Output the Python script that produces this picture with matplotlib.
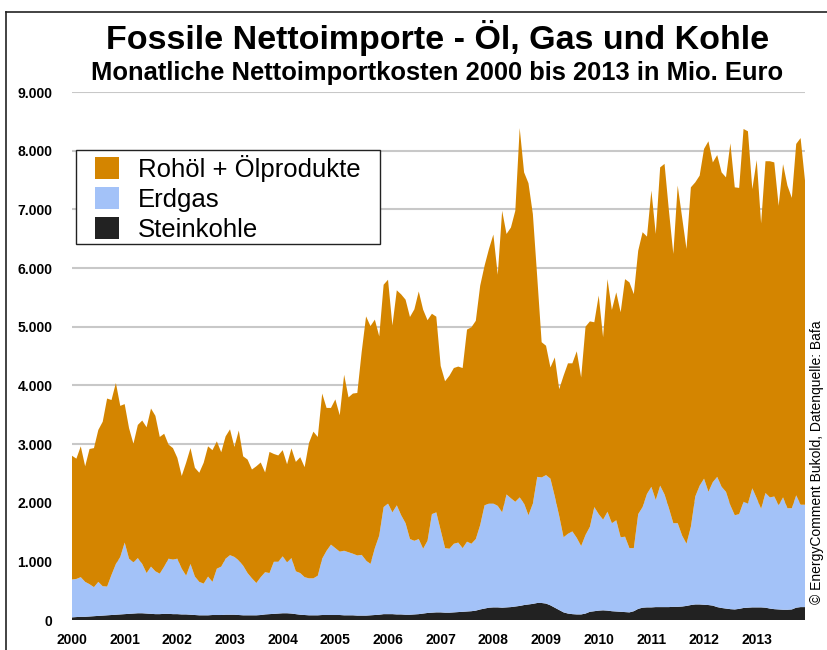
import numpy as np
import matplotlib
matplotlib.use("Agg")
import matplotlib.pyplot as plt
from matplotlib.patches import Patch, Rectangle
from matplotlib.lines import Line2D
from matplotlib.legend_handler import HandlerPatch
from matplotlib.ticker import FuncFormatter

plt.rcParams['font.family'] = ['Liberation Sans', 'DejaVu Sans']

# monthly net import costs in Mio. Euro, Jan 2000 .. Dec 2013
years = list(range(2000, 2014))

oil = [
    2110, 2050, 2230, 1970, 2305, 2370, 2590, 2805, 3205, 2980, 3085, 2575,  # 2000
    2360, 2225, 2020, 2270, 2445, 2485, 2695, 2650, 2330, 2265, 1945, 1900,  # 2001
    1720, 1580, 1925, 1975, 1855, 1860, 2060, 2220, 2245, 2170, 1950, 2085,  # 2002
    2145, 1875, 2215, 1865, 1935, 1855, 1990, 1955, 1700, 2065, 1835, 1810,  # 2003
    1810, 1670, 1870, 1865, 1975, 1875, 2310, 2500, 2365, 2815, 2435, 2330,  # 2004
    2535, 2325, 3000, 2640, 2730, 2770, 3460, 4160, 4055, 3895, 3395, 3790,  # 2005
    3815, 3185, 3665, 3765, 3810, 3785, 3945, 4220, 4075, 3760, 3415, 3335,  # 2006
    2800, 2845, 2950, 2995, 3000, 3070, 3615, 3690, 3720, 4080, 4085, 4340,  # 2007
    4585, 3940, 5140, 4440, 4615, 4960, 6295, 5645, 5660, 4935, 3400, 2305,  # 2008
    2205, 1895, 2370, 2160, 2755, 2905, 2865, 3180, 2875, 3550, 3500, 3150,  # 2009
    3725, 3110, 3965, 3635, 3885, 3835, 4390, 4530, 4330, 4490, 4685, 4385,  # 2010
    5050, 4535, 5425, 5635, 5070, 4590, 5755, 5425, 5025, 5785, 5355, 5285,  # 2011
    5620, 5975, 5450, 5485, 5360, 5360, 6170, 5590, 5560, 6355, 6345, 5100,  # 2012
    5765, 4865, 5655, 5730, 5695, 5105, 5680, 5500, 5290, 5990, 6250, 5525,  # 2013
]

gas = [
    645, 650, 675, 595, 550, 495, 580, 500, 490, 685, 865, 980,
    1220, 940, 875, 940, 840, 690, 805, 730, 690, 805, 940, 930,
    945, 780, 660, 865, 655, 570, 540, 660, 565, 790, 825, 955,
    1015, 985, 930, 845, 720, 630, 550, 645, 720, 700, 890, 885,
    970, 870, 945, 730, 710, 645, 630, 630, 675, 960, 1095, 1200,
    1140, 1080, 1100, 1075, 1050, 1025, 1035, 940, 875, 1140, 1350, 1825,
    1885, 1735, 1860, 1690, 1560, 1290, 1255, 1280, 1105, 1230, 1680, 1705,
    1400, 1100, 1090, 1170, 1185, 1085, 1190, 1150, 1220, 1440, 1760, 1775,
    1770, 1730, 1625, 1925, 1855, 1785, 1850, 1730, 1520, 1710, 2150, 2140,
    2190, 2160, 1895, 1605, 1280, 1360, 1410, 1305, 1165, 1340, 1450, 1775,
    1645, 1545, 1685, 1500, 1555, 1270, 1285, 1095, 1075, 1615, 1715, 1935,
    2055, 1825, 2070, 1920, 1685, 1425, 1425, 1210, 1060, 1335, 1840, 2025,
    2150, 1930, 2105, 2220, 2065, 1990, 1770, 1605, 1615, 1810, 1775, 2030,
    1860, 1680, 1955, 1895, 1920, 1775, 1915, 1730, 1725, 1915, 1745, 1745,
]

coal = [
    45, 50, 55, 55, 60, 65, 70, 75, 80, 85, 90, 95,
    100, 105, 110, 115, 115, 110, 105, 100, 100, 105, 105, 100,
    100, 95, 95, 90, 85, 80, 80, 80, 85, 85, 85, 90,
    90, 90, 85, 80, 80, 80, 80, 85, 95, 100, 105, 110,
    115, 115, 110, 100, 90, 85, 80, 80, 80, 85, 85, 85,
    85, 85, 80, 80, 80, 75, 75, 75, 80, 85, 90, 100,
    100, 100, 95, 95, 90, 90, 95, 100, 110, 120, 125, 130,
    130, 125, 125, 130, 135, 140, 145, 150, 160, 180, 195, 210,
    215, 215, 210, 215, 220, 230, 240, 255, 265, 275, 290, 290,
    280, 250, 210, 170, 130, 110, 100, 95, 95, 110, 140, 150,
    160, 165, 160, 150, 145, 140, 135, 130, 150, 190, 210, 215,
    215, 220, 220, 220, 220, 225, 225, 230, 240, 255, 265, 265,
    260, 255, 245, 220, 205, 195, 185, 180, 190, 205, 210, 215,
    215, 215, 210, 195, 185, 180, 175, 175, 180, 210, 220, 220,
]

labels = ['Rohöl + Ölprodukte', 'Erdgas', 'Steinkohle']
c_oil, c_gas, c_coal = '#d48500', '#a3c2f8', '#222222'

t = years[0] + np.arange(len(oil)) / 12.0

W, H = 827, 650
fig = plt.figure(figsize=(W/100, H/100), dpi=100)
ax = fig.add_axes([72/W, 1-620/H, 733/W, 528/H])

ax.stackplot(t, coal, gas, oil, colors=[c_coal, c_gas, c_oil], linewidth=0)

ax.set_xlim(t[0], t[-1])
ax.set_ylim(0, 9000)
ax.set_yticks(np.arange(0, 9001, 1000))
ax.set_xticks(years)
ax.set_xticklabels([str(y) for y in years])
ax.yaxis.set_major_formatter(FuncFormatter(lambda v, p: f"{int(v):,}".replace(',', '.')))
ax.grid(axis='y', color='#c8c8c8', lw=1.5)
ax.set_axisbelow(True)
for s in ax.spines.values():
    s.set_visible(False)
ax.tick_params(axis='both', length=0, labelsize=10)
ax.tick_params(axis='y', pad=14)
ax.tick_params(axis='x', pad=9)
for lab in ax.get_xticklabels() + ax.get_yticklabels():
    lab.set_fontweight('bold')

# legend: square swatches, own frame box
handles = [Patch(facecolor=c_oil, label=labels[0]),
           Patch(facecolor=c_gas, label=labels[1]),
           Patch(facecolor=c_coal, label=labels[2])]
leg = ax.legend(handles=handles, loc='center left',
                bbox_to_anchor=(95/W, 1-198.5/H), bbox_transform=fig.transFigure,
                borderaxespad=0, borderpad=0, fontsize=18.5, frameon=False,
                handlelength=0.93, handleheight=0.93, handletextpad=0.74,
                labelspacing=0.2)
leg.set_zorder(6)
ax.add_patch(Rectangle((76/W, 1-244/H), 304/W, 94/H, transform=fig.transFigure,
                       facecolor='white', edgecolor='#222222', lw=1.0, zorder=5))

fig.text(0.529, 1-38/H, 'Fossile Nettoimporte - Öl, Gas und Kohle',
         ha='center', va='center', fontsize=24.5, fontweight='bold')
fig.text(0.529, 1-73/H, 'Monatliche Nettoimportkosten 2000 bis 2013 in Mio. Euro',
         ha='center', va='center', fontsize=18.4, fontweight='bold')
fig.text(817/W, 1-462/H, '© EnergyComment Bukold, Datenquelle: Bafa',
         rotation=90, ha='center', va='center', fontsize=10)

# frame lines at top and left of the picture
fig.add_artist(Line2D([6/W, 6/W], [0, 1-12/H], transform=fig.transFigure, color='#222222', lw=1.2))
fig.add_artist(Line2D([6/W, 1], [1-12/H, 1-12/H], transform=fig.transFigure, color='#222222', lw=1.2))

fig.savefig('out.png', dpi=100)
